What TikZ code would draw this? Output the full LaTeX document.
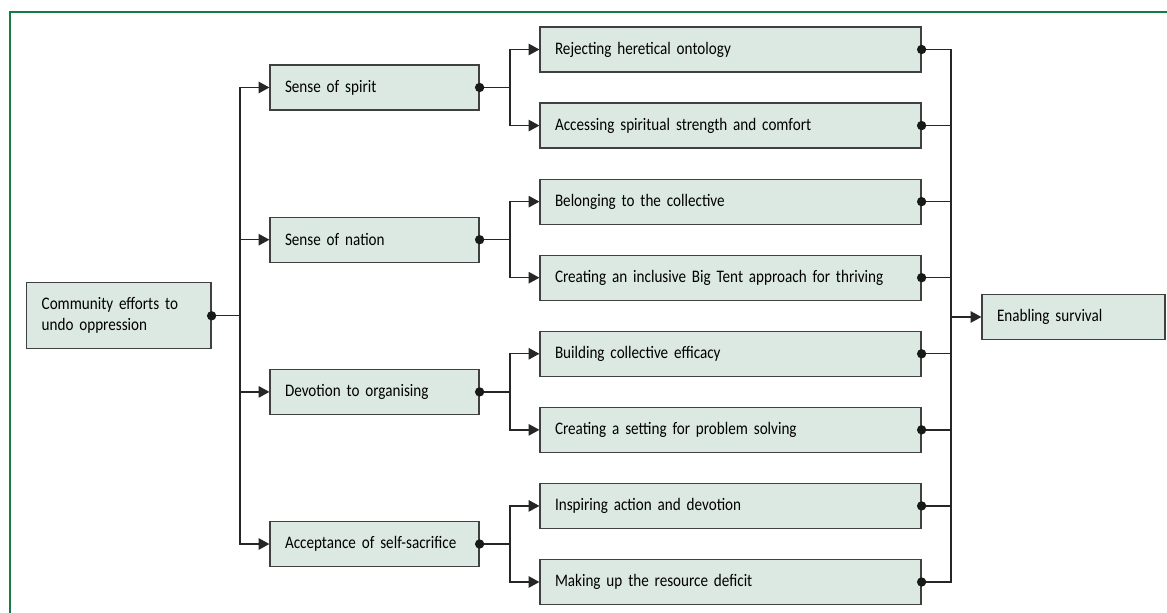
\documentclass[tikz,border=0pt]{standalone}
\usepackage{fontspec}
\setmainfont{Carlito}[FakeStretch=0.86]
\usetikzlibrary{arrows.meta}
\definecolor{boxfill}{RGB}{220,233,226}
\definecolor{framegreen}{RGB}{24,122,70}
\newcommand\boxfont{\fontsize{13.2}{15.75}\selectfont\spaceskip=0.17em\relax}
\tikzstyle{box}=[rectangle,draw=black!75,line width=0.9pt,fill=boxfill,minimum height=33.75pt,inner xsep=11.25pt,align=left,font=\boxfont]
\tikzstyle{link}=[line width=1pt,black!85]
\tikzstyle{arrow}=[link,-{Triangle[length=8pt,width=8.5pt]}]
\tikzstyle{dot}=[circle,fill=black!90,inner sep=0,minimum size=7pt]
\begin{document}
\begin{tikzpicture}[x=0.75pt,y=-0.75pt]
\useasboundingbox (0,0) rectangle (1167,613);
\draw[framegreen,line width=1.5pt] (10,613) -- (10,12) -- (1167,12);
\node[box,text width=115.75pt,minimum height=49.5pt] (root) at (118.85,315.8) {Community efforts to\\undo oppression};
\node[box,text width=114.75pt] (out) at (1073.5,317) {Enabling survival};
\coordinate (trunk) at (240,315.8);
\coordinate (col) at (951,317);
\draw[link] (root.east) -- (trunk);
\draw[arrow] (col) -- (out.west);
\node[dot] at (root.east) {};
% themes
\foreach \n/\y/\t in {1/87.5/Sense of spirit,2/239.7/Sense of nation,3/391.9/Devotion to organising,4/544/Acceptance of self-sacrifice}{
	\node[box,text width=134.25pt] (s\n) at (374.5,\y) {\t};
	\coordinate (b\n) at (510,\y);
	\draw[arrow] (trunk) |- (s\n.west);
	\draw[link] (s\n.east) -- (b\n);
	\node[dot] at (s\n.east) {};
}
% subthemes
\foreach \n/\p/\t in {0/1/Rejecting heretical ontology,1/1/Accessing spiritual strength and comfort,2/2/Belonging to the collective,3/2/Creating an inclusive Big Tent approach for thriving,4/3/Building collective efficacy,5/3/Creating a setting for problem solving,6/4/Inspiring action and devotion,7/4/Making up the resource deficit}{
	\node[box,text width=263.25pt] (r\n) at (730.5,{49.5+76.07*\n}) {\t};
	\draw[arrow] (b\p) |- (r\n.west);
	\draw[link] (r\n.east) -| (col);
	\node[dot] at (r\n.east) {};
}
\end{tikzpicture}
\end{document}
